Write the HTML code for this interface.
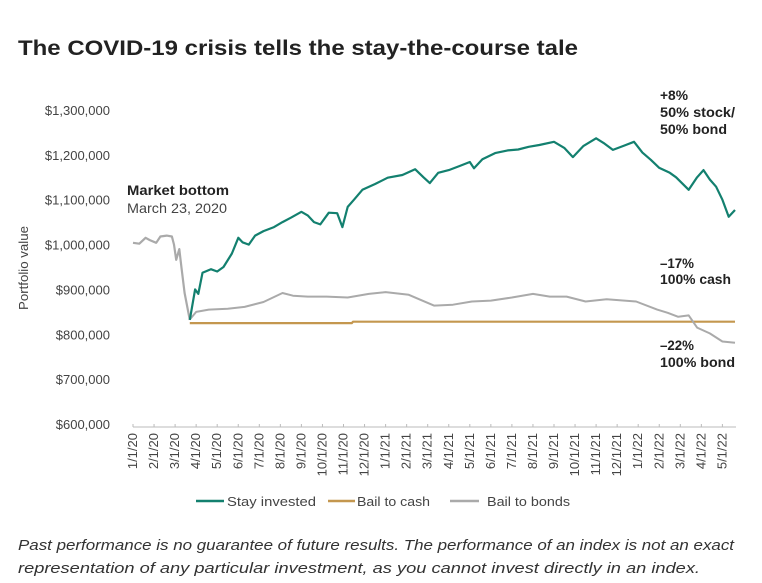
<!DOCTYPE html>
<html><head><meta charset="utf-8"><style>
body{margin:0;background:#fff;}
svg{display:block;font-family:"Liberation Sans",Arial,sans-serif;}
</style></head><body>
<svg id="chart" width="762" height="583" viewBox="0 0 762 583">
<text x="18" y="55" font-size="21" font-weight="bold" fill="#222" textLength="560" lengthAdjust="spacingAndGlyphs">The COVID-19 crisis tells the stay-the-course tale</text>
<text transform="translate(28,268) rotate(-90)" text-anchor="middle" font-size="13" fill="#444" textLength="84" lengthAdjust="spacingAndGlyphs">Portfolio value</text>
<g id="yticks"></g>
<g id="xticks"></g>
<g id="series"></g>
<g>
<text x="127" y="195" font-size="14" font-weight="bold" fill="#222" textLength="102" lengthAdjust="spacingAndGlyphs">Market bottom</text>
<text x="127" y="213" font-size="14" fill="#444" textLength="100" lengthAdjust="spacingAndGlyphs">March 23, 2020</text>
</g>
<g font-size="14" font-weight="bold" fill="#222">
<text x="660" y="100" textLength="28" lengthAdjust="spacingAndGlyphs">+8%</text><text x="660" y="117" textLength="75" lengthAdjust="spacingAndGlyphs">50% stock/</text><text x="660" y="134" textLength="67" lengthAdjust="spacingAndGlyphs">50% bond</text>
</g>
<g font-size="14" font-weight="bold" fill="#222">
<text x="660" y="268" textLength="34" lengthAdjust="spacingAndGlyphs">–17%</text><text x="660" y="284" textLength="71" lengthAdjust="spacingAndGlyphs">100% cash</text>
</g>
<g font-size="14" font-weight="bold" fill="#222">
<text x="660" y="350" textLength="34" lengthAdjust="spacingAndGlyphs">–22%</text><text x="660" y="367" textLength="75" lengthAdjust="spacingAndGlyphs">100% bond</text>
</g>
<g font-size="13" fill="#444">
<g><line x1="196" y1="501" x2="224" y2="501" stroke="#13806f" stroke-width="2.5"/><text x="227" y="506" textLength="89" lengthAdjust="spacingAndGlyphs">Stay invested</text></g>
<g><line x1="328" y1="501" x2="355" y2="501" stroke="#c4974f" stroke-width="2.5"/><text x="357" y="506" textLength="73" lengthAdjust="spacingAndGlyphs">Bail to cash</text></g>
<g><line x1="450" y1="501" x2="479" y2="501" stroke="#aaa" stroke-width="2.5"/><text x="487" y="506" textLength="83" lengthAdjust="spacingAndGlyphs">Bail to bonds</text></g>
</g>
<g font-size="15" font-style="italic" fill="#333">
<text x="18" y="550" textLength="716" lengthAdjust="spacingAndGlyphs">Past performance is no guarantee of future results. The performance of an index is not an exact</text>
<text x="18" y="573" textLength="682" lengthAdjust="spacingAndGlyphs">representation of any particular investment, as you cannot invest directly in an index.</text>
</g>
</svg>
<script>
const yTickValues=[600000,700000,800000,900000,1000000,1100000,1200000,1300000];
const xTickLabels=["1/1/20","2/1/20","3/1/20","4/1/20","5/1/20","6/1/20","7/1/20","8/1/20","9/1/20","10/1/20","11/1/20","12/1/20","1/1/21","2/1/21","3/1/21","4/1/21","5/1/21","6/1/21","7/1/21","8/1/21","9/1/21","10/1/21","11/1/21","12/1/21","1/1/22","2/1/22","3/1/22","4/1/22","5/1/22"];
// months since 1/1/20
const preMonths=[0,0.3,0.6,0.8,1.1,1.3,1.6,1.85,1.95,2.05,2.2,2.3,2.45,2.7];
const preValues=[1004000,1002000,1015000,1010000,1004000,1018000,1020000,1018000,1000000,966000,990000,950000,892000,832000];
const stayMonths=[2.7,2.95,3.1,3.3,3.7,4.0,4.3,4.7,5.0,5.2,5.5,5.8,6.2,6.7,7.1,7.5,8.0,8.3,8.6,8.9,9.3,9.7,9.95,10.2,10.5,10.9,11.5,12.1,12.8,13.4,13.8,14.1,14.5,15.0,15.5,16.0,16.2,16.6,17.2,17.8,18.3,18.8,19.3,20.0,20.5,20.9,21.4,22.0,22.4,22.8,23.3,23.8,24.2,24.6,25.0,25.5,25.8,26.4,26.8,27.1,27.4,27.7,28.0,28.3,28.6];
const stayValues=[832000,900000,890000,937000,945000,940000,950000,980000,1015000,1005000,1000000,1020000,1030000,1039000,1050000,1060000,1073000,1065000,1050000,1045000,1071000,1070000,1039000,1084000,1100000,1122000,1135000,1149000,1155000,1168000,1150000,1137000,1160000,1166000,1175000,1184000,1170000,1190000,1204000,1210000,1212000,1218000,1222000,1229000,1215000,1195000,1220000,1237000,1225000,1211000,1220000,1229000,1205000,1189000,1171000,1160000,1150000,1122000,1150000,1166000,1145000,1129000,1100000,1062000,1077000];
const bondMonths=[2.7,3.0,3.6,4.5,5.3,6.2,7.1,7.6,8.3,9.2,10.2,11.2,12.0,13.1,13.6,14.3,15.2,16.1,17.0,18.0,19.0,19.8,20.6,21.5,22.5,23.9,24.9,25.4,25.9,26.4,26.8,27.4,28.0,28.6];
const bondValues=[833000,850000,855000,857000,861000,872000,892000,886000,884000,884000,882000,890000,894000,888000,878000,864000,866000,873000,875000,882000,890000,884000,884000,873000,878000,873000,855000,848000,839000,842000,815000,802000,784000,781000];
const cashMonths=[2.7,10.4,10.45,28.6];
const cashValues=[825000,825000,828000,828000];

const svgNS="http://www.w3.org/2000/svg";
const X0=133,DX=21.05,Y0=424,YSC=314/700000;
function xScale(m){return X0+m*DX;}
function yScale(v){return Y0-(v-600000)*YSC;}
function mk(tag,attrs,parent){const e=document.createElementNS(svgNS,tag);for(const k in attrs)e.setAttribute(k,attrs[k]);parent.appendChild(e);return e;}

const yg=document.getElementById('yticks');
yTickValues.forEach(v=>{
  const t=mk('text',{x:110,y:yScale(v)+5,'text-anchor':'end','font-size':13,fill:'#444'},yg);
  
  
  t.textContent='$'+v.toLocaleString('en-US');
});
const xg=document.getElementById('xticks');
const ax=mk('line',{x1:X0,y1:427,x2:736,y2:427,stroke:'#bbb','stroke-width':1},xg);


xTickLabels.forEach((l,i)=>{
  const x=xScale(i);
  const tk=mk('line',{x1:x,y1:424,x2:x,y2:427,stroke:'#bbb'},xg);
  
  
  const t=mk('text',{transform:`translate(${x+4},433) rotate(-90)`,'text-anchor':'end','font-size':13,fill:'#444'},xg);
  
  
  t.textContent=l;
});
const sg=document.getElementById('series');
function line(ms,vs,color,w,name){
  const d=ms.map((m,i)=>(i?'L':'M')+xScale(m).toFixed(1)+','+yScale(vs[i]).toFixed(1)).join('');
  const p=mk('path',{d:d,fill:'none',stroke:color,'stroke-width':w,'stroke-linejoin':'round'},sg);
  
  
}
line(preMonths,preValues,'#aaa',2.2,'pre-crash-line');
line(cashMonths,cashValues,'#c4974f',2.2,'bail-to-cash-line');
line(bondMonths,bondValues,'#aaa',2,'bail-to-bonds-line');
line(stayMonths,stayValues,'#13806f',2.2,'stay-invested-line');
</script>
</body></html>
